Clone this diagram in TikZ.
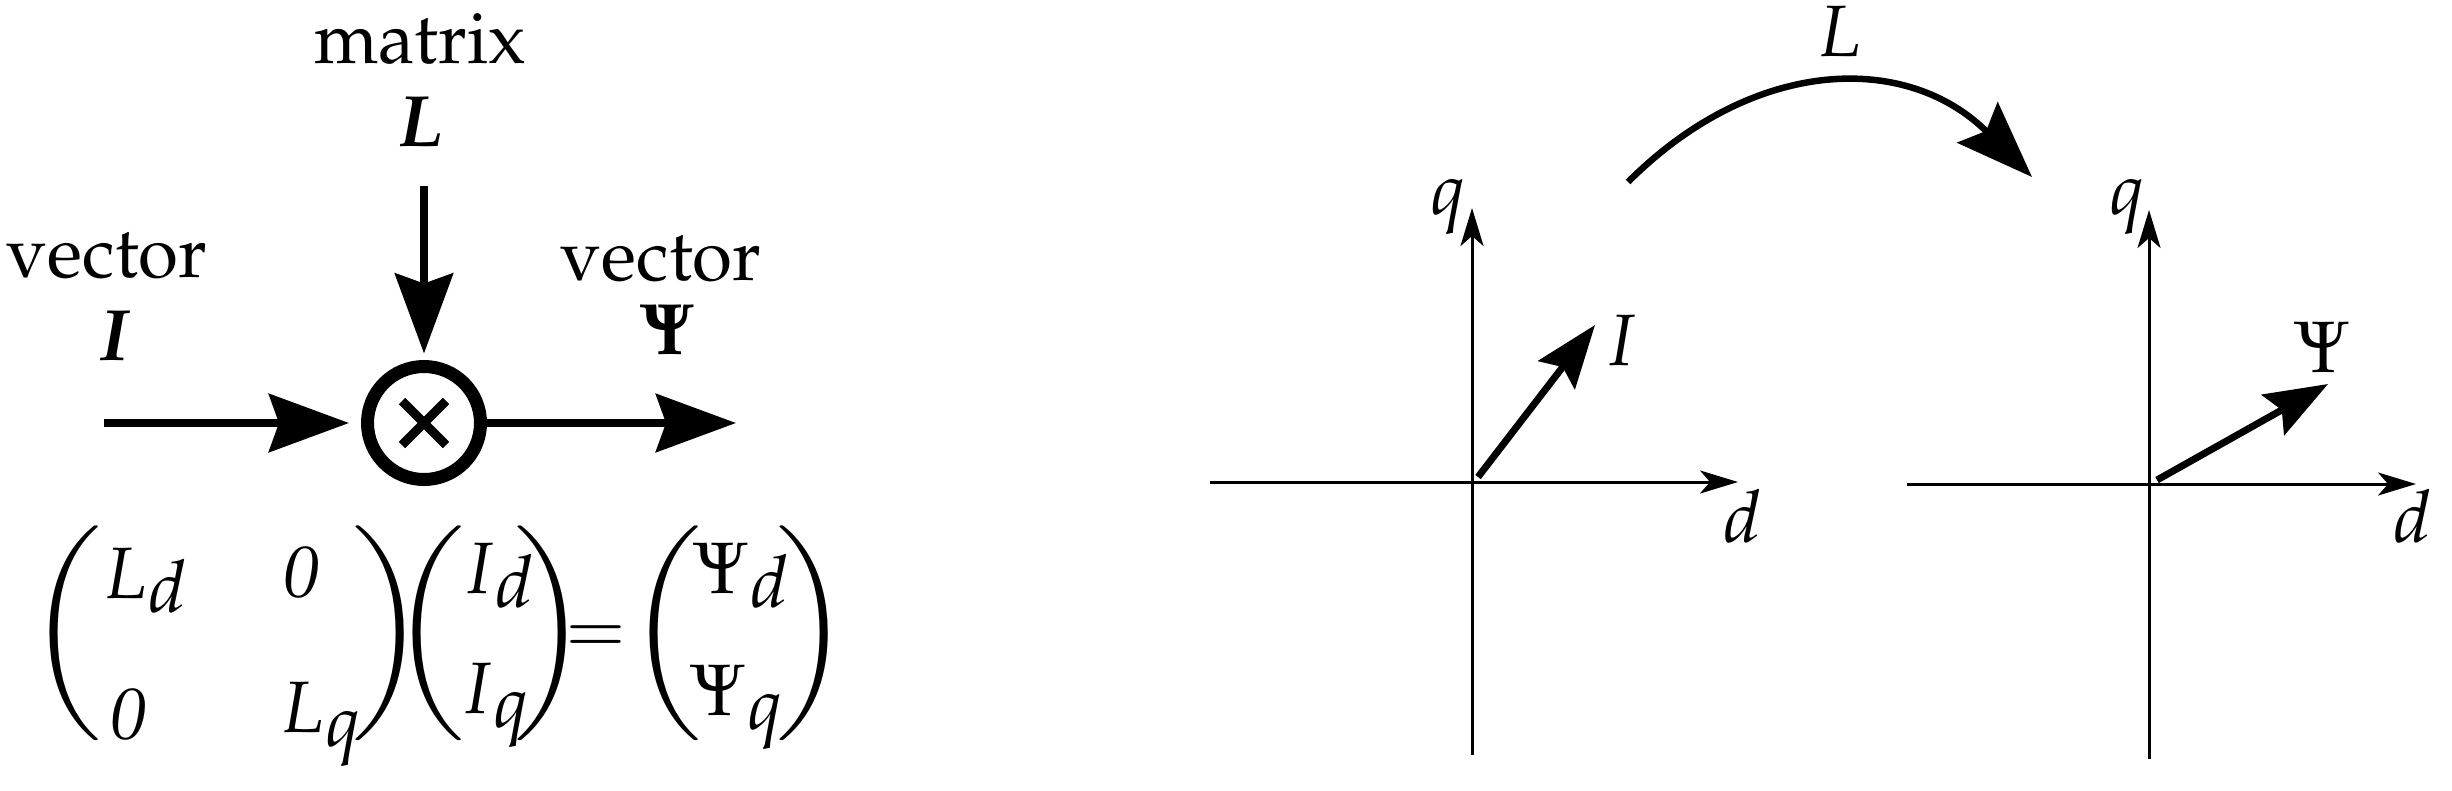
\documentclass[tikz,border=0pt]{standalone}
\usepackage[T1]{fontenc}
\usepackage{mathpazo}
\usepackage{amsmath}
\usepackage{graphicx}
\usetikzlibrary{arrows.meta}

\newcommand{\dn}[1]{\raisebox{-0.2em}{$#1$}}
\newcommand{\openbr}{\scalebox{1.35}[1.23]{$\left(\vcenter{\hrule height 1.7cm width 0pt}\right.$}}
\newcommand{\closebr}{\scalebox{1.35}[1.23]{$\left.\vcenter{\hrule height 1.7cm width 0pt}\right)$}}

\tikzset{
  every node/.style={font=\fontsize{20.7}{25}\selectfont},
  lbl/.style={inner sep=0pt, anchor=base},
  ent/.style={inner sep=0pt, anchor=base west},
  brk/.style={inner sep=0pt},
  mult/.style={draw, circle, line width=0.13cm, minimum size=1.13cm, inner sep=0pt},
  cross/.style={line width=0.09cm},
  flow/.style={line width=0.08cm, -{Stealth[length=0.8cm,width=0.58cm,inset=0.1cm]}},
  axis/.style={line width=0.03cm, -{Stealth[length=0.38cm,width=0.23cm,inset=0.1cm]}},
  phasor/.style={line width=0.07cm, -{Stealth[length=0.63cm,width=0.46cm,inset=0.1cm]}},
  bendarrow/.style={line width=0.065cm, -{Stealth[length=0.77cm,width=0.57cm,inset=0.12cm]}},
}

\begin{document}
\begin{tikzpicture}
  \useasboundingbox (0,0) rectangle (24.52,7.9);
  % block diagram
  \node[mult] (mul) at (4.24,3.67) {};
  \draw[cross] ([shift={(-0.22,-0.22)}]mul.center) -- ([shift={(0.22,0.22)}]mul.center);
  \draw[cross] ([shift={(-0.22,0.22)}]mul.center) -- ([shift={(0.22,-0.22)}]mul.center);
  \coordinate (Iin) at (1.04,3.67);
  \coordinate (Psiout) at (7.36,3.67);
  \coordinate (Lin) at (4.24,6.04);
  \draw[flow, shorten >=0.12cm] (Iin) -- (mul.west);
  \draw[flow] (mul.east) -- (Psiout);
  \draw[flow, shorten >=0.065cm] (Lin) -- (mul.north);
  \node[lbl] (matLbl) at (4.20,7.27) {matrix};
  \node[lbl] (matSym) at (4.20,6.44) {$\boldsymbol{L}$};
  \node[lbl] (inLbl) at (1.07,5.13) {vector};
  \node[lbl] (inSym) at (1.14,4.30) {$\boldsymbol{I}$};
  \node[lbl] (outLbl) at (6.61,5.10) {vector};
  \node[lbl] (outSym) at (6.68,4.36) {$\boldsymbol{\Psi}$};
  % equation
  \node[brk] (p1l) at (0.685,1.57) {\openbr};
  \node[ent] (Ld) at (1.03,1.92) {$L\dn{d}$};
  \node[ent] (z1) at (2.83,1.93) {$\mathit{0}$};
  \node[ent] (z2) at (1.10,0.51) {$\mathit{0}$};
  \node[ent] (Lq) at (2.80,0.58) {$L\dn{q}$};
  \node[brk] (p1r) at (3.86,1.57) {\closebr};
  \node[brk] (p2l) at (4.315,1.57) {\openbr};
  \node[ent] (Id) at (4.62,1.97) {$I\dn{d}$};
  \node[ent] (Iq) at (4.60,0.77) {$I\dn{q}$};
  \node[brk] (p2r) at (5.48,1.57) {\closebr};
  \node[brk] (eq) at (5.96,1.50) {$=$};
  \node[brk] (p3l) at (6.685,1.57) {\openbr};
  \node[ent] (Psid) at (6.93,1.97) {$\Psi\dn{d}$};
  \node[ent] (Psiq) at (6.90,0.75) {$\Psi\dn{q}$};
  \node[brk] (p3r) at (8.10,1.57) {\closebr};
  % d-q planes
  \coordinate (O1) at (14.72,3.08);
  \coordinate (dA) at (12.10,3.08);
  \coordinate (dB) at (17.38,3.08);
  \coordinate (qA) at (14.72,0.35);
  \coordinate (qB) at (14.72,5.82);
  \coordinate (Itip) at (15.95,4.65);
  \draw[axis] (dA) -- (dB);
  \draw[axis] (qA) -- (qB);
  \draw[phasor] ([shift={(0.06,0.05)}]O1) -- (Itip);
  \node[lbl] (q1) at (14.48,5.76) {$q$};
  \node[lbl] (d1) at (17.43,2.48) {$d$};
  \node[lbl] (Ilbl) at (16.21,4.25) {$I$};
  \coordinate (O2) at (21.49,3.06);
  \coordinate (dC) at (19.07,3.06);
  \coordinate (dD) at (24.16,3.06);
  \coordinate (qC) at (21.49,0.31);
  \coordinate (qD) at (21.49,5.80);
  \coordinate (Psitip) at (23.28,4.06);
  \draw[axis] (dC) -- (dD);
  \draw[axis] (qC) -- (qD);
  \draw[phasor] ([shift={(0.08,0.04)}]O2) -- (Psitip);
  \node[lbl] (q2) at (21.27,5.76) {$q$};
  \node[lbl] (d2) at (24.13,2.48) {$d$};
  \node[lbl] (Psilbl) at (23.23,4.18) {$\Psi$};
  % mapping arc
  \coordinate (Lfrom) at (16.28,6.08);
  \coordinate (Lto) at (20.32,6.13);
  \draw[bendarrow] (Lfrom) to[out=45,in=135,looseness=1.12] (Lto);
  \node[lbl] (Llbl) at (18.40,7.34) {$L$};
\end{tikzpicture}
\end{document}
